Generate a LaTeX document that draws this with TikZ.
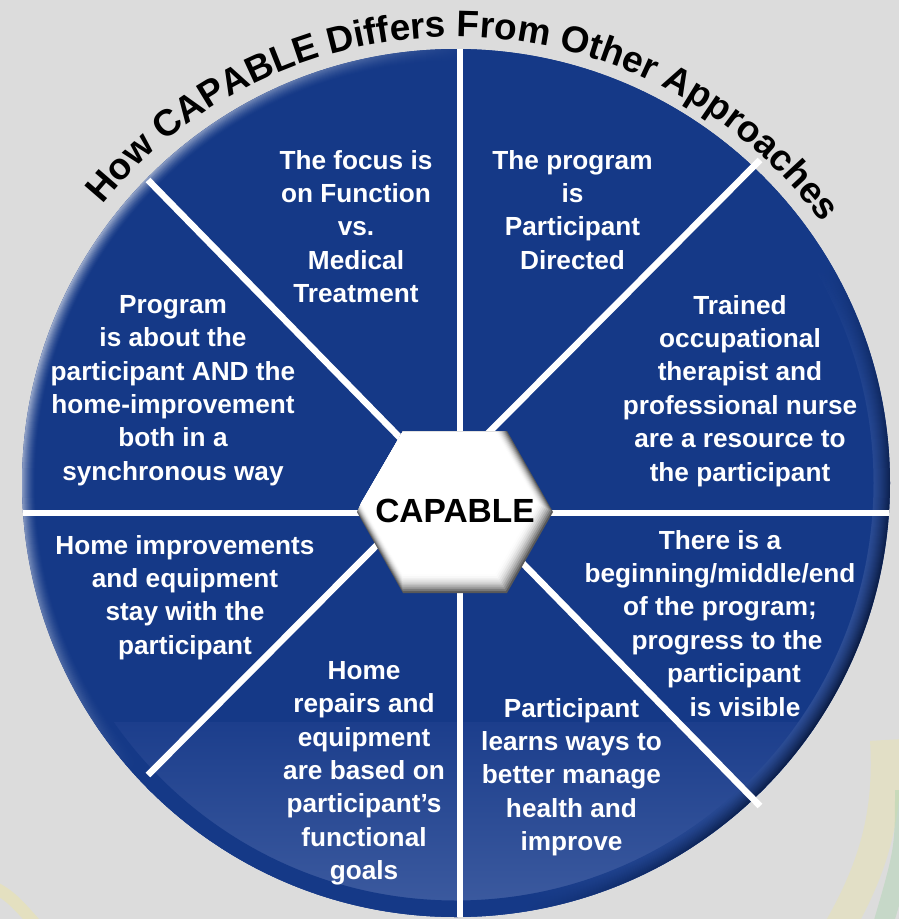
\documentclass[tikz,border=0pt]{standalone}
\usepackage{fontspec}
\setmainfont{Liberation Sans}
\usetikzlibrary{decorations.text}

\definecolor{bgGray}{RGB}{220,220,220}
\definecolor{discBlue}{RGB}{21,57,135}
\definecolor{discMid}{RGB}{28,62,140}
\definecolor{discLow}{RGB}{62,92,160}
\definecolor{rimDark}{RGB}{4,8,20}
\definecolor{swirlYellow}{RGB}{240,232,150}
\definecolor{swirlGreen}{RGB}{165,212,170}
\definecolor{swirlViolet}{RGB}{200,180,225}
\colorlet{rimTop}{white}
\colorlet{rimBot}{rimDark}

% rim shading: dark band at one end, plain blue in the middle, light band at the other
\pgfdeclareverticalshading[rimTop,rimBot]{rimshade}{100bp}{%
  color(0bp)=(rimBot); color(17bp)=(rimBot); color(36bp)=(discBlue);
  color(60bp)=(discBlue); color(83bp)=(rimTop); color(100bp)=(rimTop)}

\newcommand\cellfont{\fontsize{26.2}{33.4}\selectfont\bfseries}
\newcommand\hubfont{\fontsize{33.5}{36}\selectfont\bfseries}
\newcommand\ttlfont{\fontsize{37}{37}\selectfont\bfseries}

\begin{document}
\begin{tikzpicture}[x=1pt,y=1pt,
  cell/.style={text=white, font=\cellfont, align=center, inner sep=0pt, anchor=north},
  divider/.style={white, line width=6.5pt},
  hubtext/.style={text=black, font=\hubfont, inner sep=0pt},
]
\useasboundingbox (0,0) rectangle (899,-919);
\fill[bgGray] (0,0) rectangle (899,-919);

% faint colour swirls in the lower corners
\begin{scope}
  \clip (0,0) rectangle (899,-919);
  \draw[line width=30pt, swirlYellow, opacity=0.3] (885,-740) .. controls (890,-820) and (870,-875) .. (835,-935);
  \draw[line width=20pt, swirlGreen, opacity=0.4] (905,-790) .. controls (905,-850) .. (880,-935);
  \draw[line width=18pt, swirlViolet, opacity=0.4] (920,-820) .. controls (915,-880) .. (905,-935);
  \draw[line width=12pt, swirlYellow, opacity=0.4] (-20,-880) .. controls (10,-895) .. (45,-935);
\end{scope}

% the disc
\coordinate (c) at (456,-483);
\fill[discBlue] (c) circle[radius=434];
\begin{scope}
  \clip (c) circle[radius=434];
  \shade[top color=discMid, bottom color=discLow] (0,-722) rectangle (899,-920);
\end{scope}

% bevelled rim: light along the top, dark towards the lower right
\foreach \j in {0,...,15} {
  \pgfmathsetmacro\ro{434-\j}
  \pgfmathsetmacro\ri{432.5-\j}
  \pgfmathsetmacro\gb{max(0,1-\j/13)}
  \pgfmathsetmacro\g{88*\gb^1.5}
  \pgfmathsetmacro\d{100*(1-\j/16)^1.3}
  \colorlet{rimTop}{white!\g!discBlue}
  \colorlet{rimBot}{rimDark!\d!discLow}
  \shade[even odd rule, shading=rimshade, shading angle=65]
    (c) circle[radius=\ro] (c) circle[radius=\ri];
}

% dividers between the eight sectors
\coordinate (vTop) at (460,-40);
\coordinate (vBot) at (460,-930);
\coordinate (hL) at (10,-513);
\coordinate (hR) at (899,-513);
\coordinate (dA1) at (148,-180);
\coordinate (dA2) at (760,-806);
\coordinate (dB1) at (760,-160);
\coordinate (dB2) at (148,-775);
\begin{scope}
  \clip (c) circle[radius=434];
  \draw[divider] (vTop) -- (vBot);
  \draw[divider] (hL) -- (hR);
\end{scope}
\draw[divider] (dA1) -- (dA2);
\draw[divider] (dB1) -- (dB2);

% bevelled hexagon in the middle
\coordinate (hub) at (455,-512);
\foreach \i in {0,...,10} {
  \pgfmathsetmacro\sx{-0.6*\i}
  \pgfmathsetmacro\sy{0.9*\i}
  \pgfmathsetmacro\rx{98-\i}
  \pgfmathsetmacro\tx{52-0.55*\i}
  \pgfmathsetmacro\ry{81-\i}
  \pgfmathsetmacro\k{65*(1-\i/10)^2}
  \fill[black!\k!white]
    ([shift={(\sx+\rx,\sy)}]hub) -- ([shift={(\sx+\tx,\sy+\ry)}]hub)
    -- ([shift={(\sx-\tx,\sy+\ry)}]hub) -- ([shift={(\sx-\rx,\sy)}]hub)
    -- ([shift={(\sx-\tx,\sy-\ry)}]hub) -- ([shift={(\sx+\tx,\sy-\ry)}]hub) -- cycle;
}
\node[hubtext] (capable) at (455,-511) {CAPABLE};

% sector texts
\node[cell] (focus) at (356,-150) {The focus is\\on Function\\vs.\\Medical\\Treatment};
\node[cell] (directed) at (572.5,-150) {The program\\is\\Participant\\Directed};
\node[cell] (staff) at (740,-295) {Trained\\occupational\\therapist and\\professional nurse\\are a resource to\\the participant};
\node[cell] (synch) at (173,-295) {Program\\is about the\\participant AND the\\home-improvement\\both in a\\synchronous way};
\node[cell] (stay) at (185,-535) {Home improvements\\and equipment\\stay with the\\participant};
\node[cell] (phases) at (720,-530) {There is a\\beginning/middle/end\\of the program;\\\hspace*{14pt}progress to the\\\hspace*{28pt}participant\\\hspace*{50pt}is visible};
\node[cell] (learn) at (571.5,-698) {Participant\\learns ways to\\better manage\\health and\\improve};
\node[cell] (goals) at (364,-661) {Home\\repairs and\\equipment\\are based on\\participant’s\\functional\\goals};

% curved title over the disc
\coordinate (tc) at (455,-492);
\path[decorate, decoration={text along path, text align=center,
    text={|\ttlfont|How CAPABLE Differs From Other Approaches}}]
  (tc) ++(146:455) arc[start angle=146, end angle=31, radius=455];
\end{tikzpicture}
\end{document}
